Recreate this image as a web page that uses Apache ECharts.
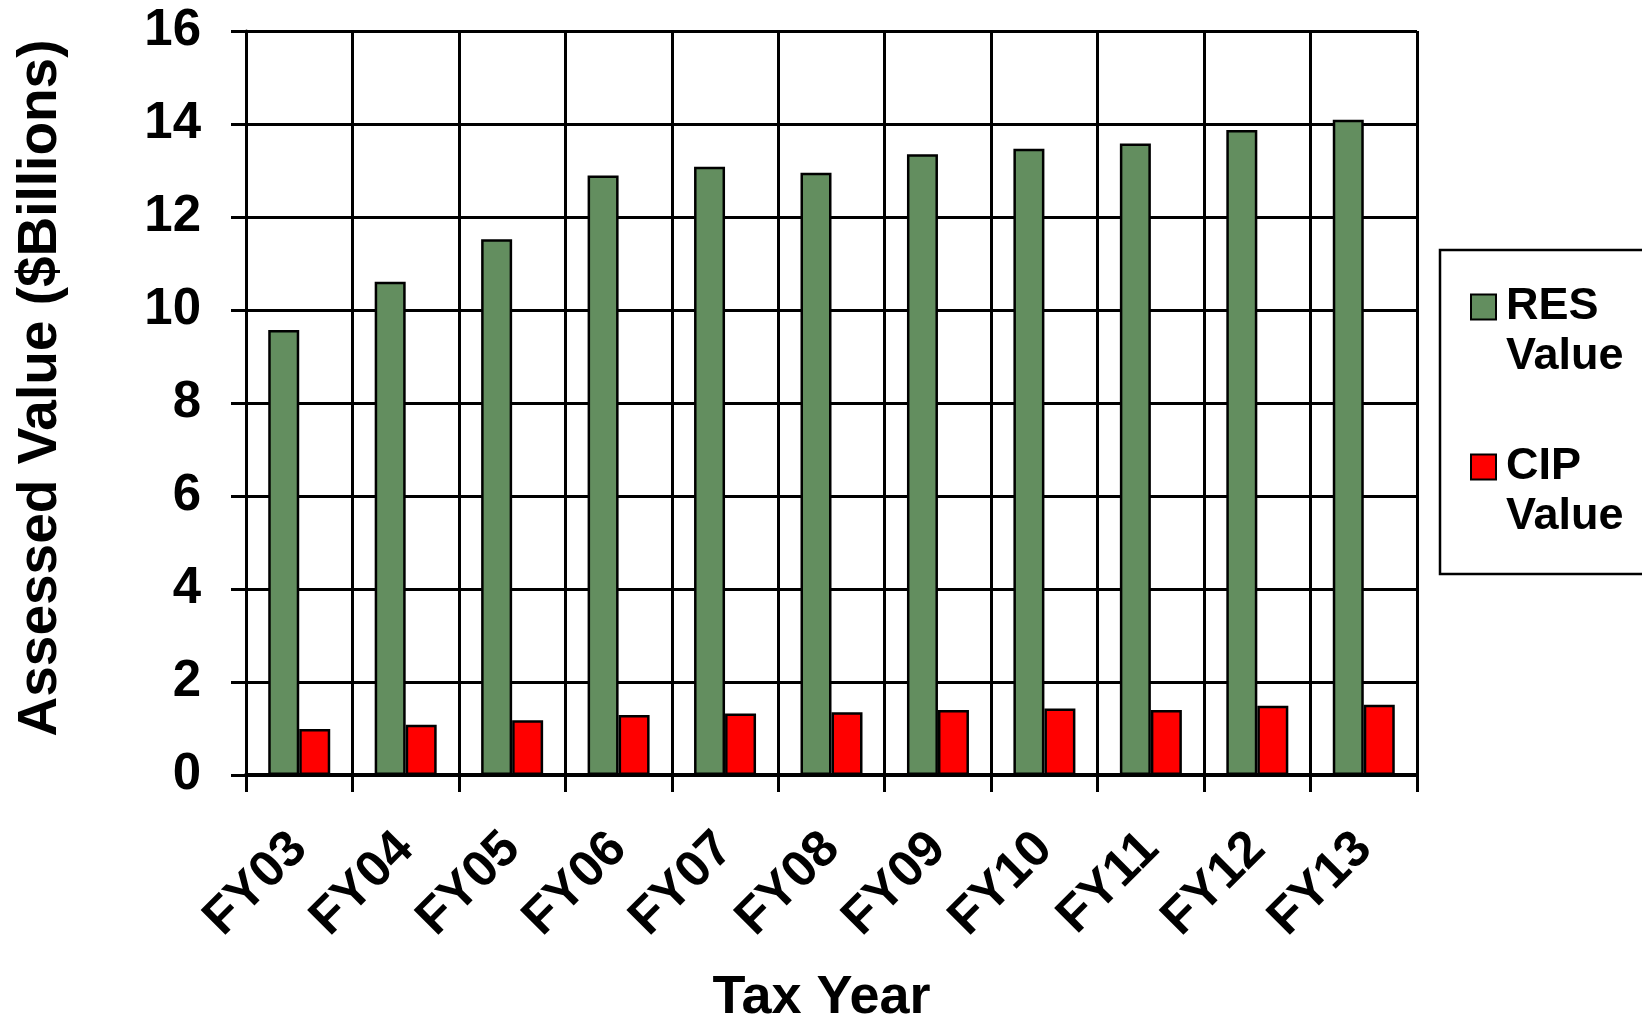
<!DOCTYPE html>
<html>
<head>
<meta charset="utf-8">
<title>Assessed Value by Tax Year</title>
<script src="https://cdn.jsdelivr.net/npm/echarts@6/dist/echarts.min.js"></script>
<style>
  html, body { margin: 0; padding: 0; background: #fff; }
  #chart { width: 1642px; height: 1023px; }
</style>
</head>
<body>
<div id="chart"></div>
<script>
// Tax years on the category axis
const taxYears = ['FY03', 'FY04', 'FY05', 'FY06', 'FY07', 'FY08', 'FY09', 'FY10', 'FY11', 'FY12', 'FY13'];
// Residential assessed value, $ billions
const resValues = [9.57, 10.61, 11.52, 12.89, 13.08, 12.95, 13.35, 13.47, 13.58, 13.87, 14.09];
// Commercial / industrial / personal assessed value, $ billions
const cipValues = [0.99, 1.08, 1.18, 1.29, 1.32, 1.35, 1.40, 1.43, 1.40, 1.49, 1.51];
// Value axis ticks
const yTicks = [0, 2, 4, 6, 8, 10, 12, 14, 16];

const FONT = "'Liberation Sans', Arial, sans-serif";
// Legend swatch: a 25px square at the top of a 25x100 box, so it lines up
// with the first line of the two-line legend label.
const SWATCH = 'path://M0,0 M25,100 M0,12.5 L25,12.5 L25,37.5 L0,37.5 Z';

const chart = echarts.init(document.getElementById('chart'));

chart.setOption({
  animation: false,
  backgroundColor: '#ffffff',
  textStyle: { fontFamily: FONT },
  grid: {
    left: 246, right: 225, top: 31, bottom: 248,
    containLabel: false,
    outerBoundsMode: 'none'
  },
  legend: {
    orient: 'vertical',
    left: 1440,
    top: 250,
    padding: [31, 40, 31, 30],
    itemGap: 58,
    itemWidth: 25,
    itemHeight: 100,
    icon: SWATCH,
    borderColor: '#000',
    borderWidth: 2.5,
    formatter: name => name.replace(' ', '\n'),
    textStyle: {
      fontFamily: FONT,
      fontWeight: 'bold',
      fontSize: 45,
      lineHeight: 50,
      color: '#000',
      padding: [0, 0, 0, 5]
    }
  },
  xAxis: {
    type: 'category',
    data: taxYears,
    boundaryGap: true,
    name: 'Tax Year',
    nameLocation: 'middle',
    nameGap: 196,
    nameTextStyle: {
      fontFamily: FONT, fontWeight: 'bold', fontSize: 54, color: '#000',
      padding: [0, 20, 0, 0]
    },
    axisLine: { lineStyle: { color: '#000', width: 4 } },
    axisTick: { show: true, length: 17, interval: 0, lineStyle: { color: '#000', width: 3 } },
    axisLabel: {
      interval: 0,
      rotate: 45,
      margin: 66,
      fontFamily: FONT,
      fontWeight: 'bold',
      fontSize: 51,
      color: '#000'
    },
    splitLine: { show: true, interval: 0, lineStyle: { color: '#000', width: 3 } }
  },
  yAxis: {
    type: 'value',
    min: yTicks[0],
    max: yTicks[yTicks.length - 1],
    interval: yTicks[1] - yTicks[0],
    name: 'Assessed Value ($Billions)',
    nameLocation: 'middle',
    nameGap: 178,
    nameRotate: 90,
    nameTextStyle: {
      fontFamily: FONT, fontWeight: 'bold', fontSize: 55, color: '#000',
      padding: [0, 0, 0, 30]
    },
    axisLine: { show: true, lineStyle: { color: '#000', width: 3 } },
    axisTick: { show: true, length: 15, lineStyle: { color: '#000', width: 3 } },
    axisLabel: {
      margin: 45,
      fontFamily: FONT,
      fontWeight: 'bold',
      fontSize: 51,
      color: '#000'
    },
    splitLine: { show: true, lineStyle: { color: '#000', width: 3 } }
  },
  series: [
    {
      name: 'RES Value',
      type: 'bar',
      data: resValues,
      barWidth: 31,
      barGap: '0%',
      itemStyle: { color: '#638E5F', borderColor: '#000', borderWidth: 2.5 }
    },
    {
      name: 'CIP Value',
      type: 'bar',
      data: cipValues,
      barWidth: 31,
      barGap: '0%',
      itemStyle: { color: '#FF0000', borderColor: '#000', borderWidth: 2.5 }
    }
  ]
});
</script>
</body>
</html>
